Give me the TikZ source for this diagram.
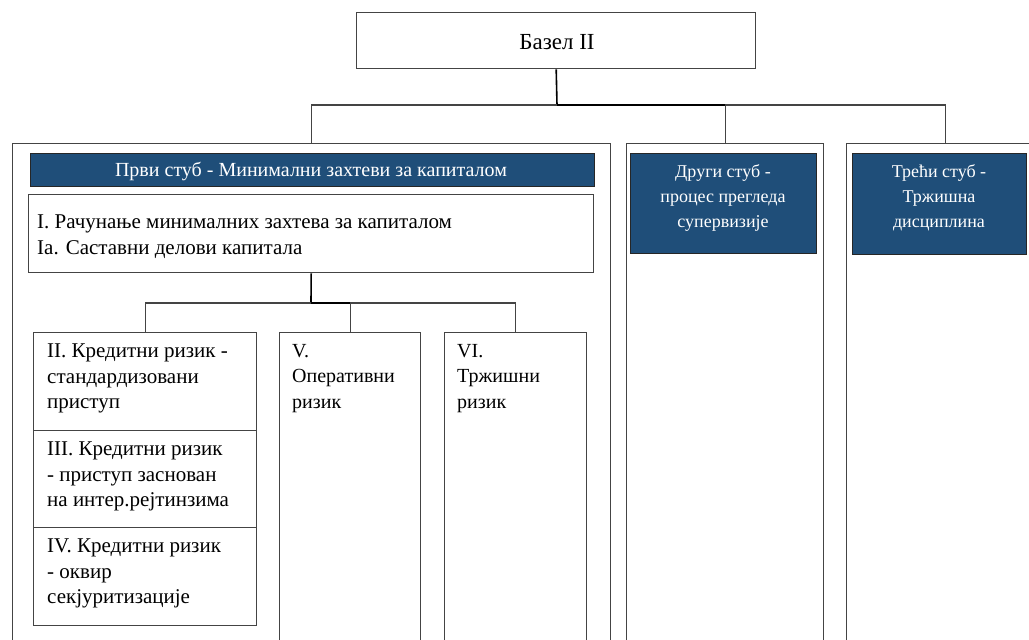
\documentclass[tikz,border=0pt]{standalone}
\usepackage{fontspec}
\setmainfont{Liberation Serif}
\definecolor{hdr}{HTML}{1F4E79}
\definecolor{frm}{HTML}{444444}
\begin{document}
\begin{tikzpicture}[x=1pt,y=-1pt,
  box/.style={draw=frm,line width=1.4pt,fill=white,anchor=north west,inner sep=0pt},
  hbox/.style={draw=black!85,line width=1.4pt,fill=hdr,anchor=north west,inner sep=0pt},
  txt/.style={anchor=north west,inner sep=0pt,align=left,font=\fontsize{21}{25.5}\selectfont},
  ntxt/.style={anchor=north west,inner sep=0pt,align=left,font=\fontsize{20}{25.5}\selectfont},
  wtxt/.style={anchor=north,inner sep=0pt,align=center,text=white,font=\fontsize{18}{25}\selectfont},
  conn/.style={draw=black,line width=1.6pt}]
\path[use as bounding box] (0,0) rectangle (1029,640);
\clip (0,0) rectangle (1029,640);
% top
\node[box,minimum width=399pt,minimum height=56pt] (basel) at (356,12) {};
\node[font=\fontsize{23}{26}\selectfont,inner sep=0pt] (baselT) at (557,42) {Базел II};
% pillars
\node[box,minimum width=598pt,minimum height=520pt] (p1) at (12,143) {};
\node[box,minimum width=197pt,minimum height=520pt] (p2) at (626,143) {};
\node[box,minimum width=198pt,minimum height=520pt] (p3) at (846,143) {};
\coordinate (bj) at (557,105);
\draw[conn] (basel.south) -- (bj);
\draw[conn,draw=frm,line width=1.4pt] (p1.north) |- (bj) -| (p3.north);
\draw[conn,draw=frm,line width=1.4pt] (p2.north) -- (p2.north |- bj);
\draw[conn] (bj) -- (bj -| p2.north);
% headers
\node[hbox,minimum width=564pt,minimum height=33pt] (h1) at (30,153) {};
\node[text=white,inner sep=0pt,font=\fontsize{20}{22}\selectfont] (h1T) at (311,171) {Први стуб - Минимални захтеви за капиталом};
\node[hbox,minimum width=186pt,minimum height=100pt] (h2) at (630,153) {};
\node[wtxt] (h2T) at (723,164) {Други стуб -\\процес прегледа\\супервизије};
\node[hbox,minimum width=174pt,minimum height=101pt] (h3) at (852,153) {};
\node[wtxt] (h3T) at (939,164) {Трећи стуб -\\Тржишна\\дисциплина};
% box I
\node[box,minimum width=565pt,minimum height=78pt] (b1) at (28,194) {};
\node[txt] (b1T) at (37,215) {I. Рачунање минималних  захтева за капиталом\\Ia. Саставни делови капитала};
% risk boxes
\node[box,minimum width=223pt,minimum height=98pt] (b2) at (33,332) {};
\node[box,minimum width=223pt,minimum height=97pt] (b3) at (33,430) {};
\node[box,minimum width=223pt,minimum height=98pt] (b4) at (33,527) {};
\node[box,minimum width=141pt,minimum height=320pt] (b5) at (279,332) {};
\node[box,minimum width=142pt,minimum height=320pt] (b6) at (444,332) {};
\node[txt] (b2T) at (47,344) {II. Кредитни  ризик -\\стандардизовани\\приступ};
\node[txt] (b3T) at (47,442) {III. Кредитни  ризик\\- приступ заснован\\на интер.рејтинзима};
\node[txt] (b4T) at (47,539) {IV. Кредитни  ризик\\- оквир\\секјуритизације};
\node[ntxt] (b5T) at (292,344) {V.\\Оперативни\\ризик};
\node[ntxt] (b6T) at (457,344) {VI.\\Тржишни\\ризик};
\coordinate (rj) at (311,303);
\draw[conn] (b1.south) -- (rj);
\draw[conn,draw=frm,line width=1.4pt] (b2.north) |- (rj) -| (b6.north);
\draw[conn,draw=frm,line width=1.4pt] (b5.north) -- (b5.north |- rj);
\draw[conn] (rj) -- (rj -| b5.north);
\end{tikzpicture}
\end{document}
